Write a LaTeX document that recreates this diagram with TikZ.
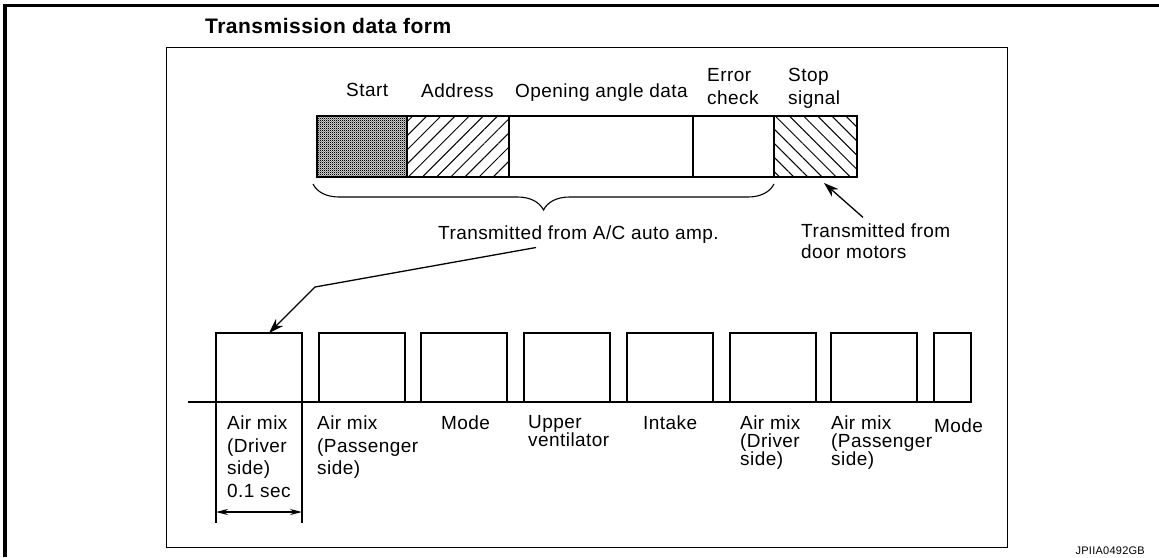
\documentclass[tikz,border=0pt]{standalone}
\usepackage{fontspec}
\setmainfont{Liberation Sans}[LetterSpace=2.3]
\usepackage{tikz}
\usetikzlibrary{arrows.meta,positioning,calc,patterns,patterns.meta,decorations.pathreplacing}

\pgfdeclarepatternformonly{finechecker}{\pgfpointorigin}{\pgfpoint{2pt}{2pt}}{\pgfpoint{2pt}{2pt}}{%
  \pgfpathrectangle{\pgfpointorigin}{\pgfpoint{1.3pt}{1.3pt}}%
  \pgfpathrectangle{\pgfpoint{1pt}{1pt}}{\pgfpoint{1.3pt}{1.3pt}}%
  \pgfusepath{fill}}

\begin{document}
\begin{tikzpicture}[x=1pt, y=-1pt, >=Stealth,
    font=\fontsize{19}{22.7}\selectfont,
    seg/.style={draw, line width=1.3pt, minimum height=61, inner sep=0pt, outer sep=0pt},
    slot/.style={draw, line width=1.3pt, minimum width=86, minimum height=69, inner sep=0pt, outer sep=0pt, anchor=south west},
    lab/.style={inner sep=0pt, align=left, anchor=north west},
    tight/.style={font=\fontsize{19}{18.3}\selectfont},
    hatch/.style={pattern={Lines[angle=#1, distance=10pt, line width=1pt]}}]
  \useasboundingbox (0,0) rectangle (1159,557);

  % frame of the page and of the form
  \draw[line width=3.5pt] (5,557) -- (5,5.5) -- (1159,5.5);
  \node[draw, line width=1.4pt, minimum width=841, minimum height=500, inner sep=0pt, anchor=north west] (form) at (166,47) {};
  \node[font=\fontsize{21}{24}\selectfont\bfseries, anchor=base west, inner sep=0pt] (title) at (205,33) {Transmission data form};

  % one frame of the signal
  \node[seg, minimum width=90, anchor=north west, pattern=finechecker] (start) at (317,116) {};
  \node[seg, minimum width=102, hatch=45, right=0pt of start] (addr) {};
  \node[seg, minimum width=184, right=0pt of addr] (data) {};
  \node[seg, minimum width=81, right=0pt of data] (check) {};
  \node[seg, minimum width=83, hatch=-45, right=0pt of check] (stop) {};

  \node[lab] (startlab) at (346,83.1) {Start};
  \node[lab] (addrlab) at (421,83.1) {Address};
  \node[lab] (datalab) at (515,83.1) {Opening angle data};
  \node[lab] (checklab) at (707,68.4) {Error\\check};
  \node[lab] (stoplab) at (788,68.4) {Stop\\signal};

  \coordinate (bl) at ([xshift=-4pt,yshift=-7pt]start.south west);
  \coordinate (br) at ([yshift=-7pt]check.south east);
  \draw[line width=1.1pt, decorate, decoration={brace, mirror, amplitude=26pt}] (bl) -- (br);

  \node[lab] (amp) at (438,225.4) {Transmitted from A/C auto amp.};
  \node[lab, font=\fontsize{19}{21}\selectfont] (door) at (801,223.4) {Transmitted from\\door motors};
  \draw[->, line width=1.3pt, -{Stealth[length=15pt,width=10pt]}] ([xshift=62pt,yshift=6pt]door.north west) -- ([xshift=50pt,yshift=-6pt]stop.south west);

  % the door motors in turn
  \draw[line width=1.3pt] (188,402) -- (971,402);
  \foreach \i/\x in {1/216, 2/319, 3/421, 4/524, 5/627, 6/730, 7/831} {
    \node[slot] (slot\i) at (\x,402) {};
  }
  \node[slot, minimum width=37] (slot8) at (934,402) {};

  \coordinate (bend) at (315,287);
  \coordinate (ampfoot) at ([xshift=98pt,yshift=-4pt]amp.south west);
  \draw[line width=1.3pt, -{Stealth[length=15pt,width=10pt]}] (ampfoot) -- (bend) -- ([xshift=10pt]slot1.north);

  \node[lab] (lab1) at (227,415.4) {Air mix\\(Driver\\side)\\0.1 sec};
  \node[lab] (lab2) at (317,415.4) {Air mix\\(Passenger\\side)};
  \node[lab] (lab3) at (441,415.4) {Mode};
  \node[lab, tight] (lab4) at (528,415.4) {Upper\\ventilator};
  \node[lab] (lab5) at (643,415.4) {Intake};
  \node[lab, tight] (lab6) at (740,415.4) {Air mix\\(Driver\\side)};
  \node[lab, tight] (lab7) at (831,415.4) {Air mix\\(Passenger\\side)};
  \node[lab] (lab8) at (934,418.4) {Mode};

  % 0.1 sec span
  \coordinate (tl) at ([yshift=-121pt]slot1.south west);
  \coordinate (tr) at ([yshift=-121pt]slot1.south east);
  \draw[line width=1.3pt] (slot1.south west) -- (tl);
  \draw[line width=1.3pt] (slot1.south east) -- (tr);
  \draw[line width=1.3pt, {Stealth[length=12pt,width=6pt]}-{Stealth[length=12pt,width=6pt]}] ([yshift=11pt]tl) -- ([yshift=11pt]tr);

  \node[font=\fontsize{11}{13}\selectfont, anchor=base east, inner sep=0pt] (code) at (1145,554) {JPIIA0492GB};
\end{tikzpicture}
\end{document}
